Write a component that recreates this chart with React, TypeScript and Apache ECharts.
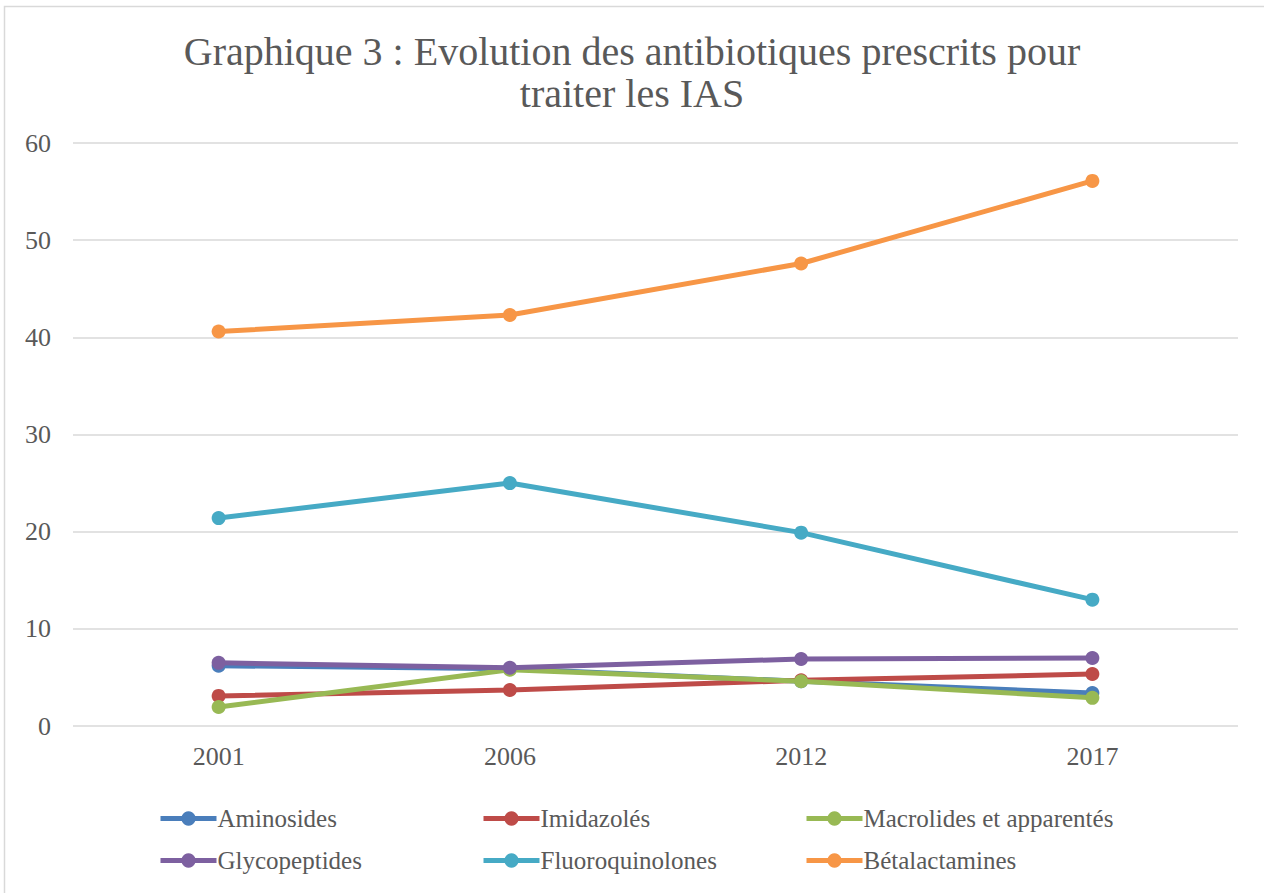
import React, { useEffect, useRef } from "react";
import * as echarts from "echarts";

const years = ["2001", "2006", "2012", "2017"];
const seriesNames = [
  "Aminosides",
  "Imidazolés",
  "Macrolides et apparentés",
  "Glycopeptides",
  "Fluoroquinolones",
  "Bétalactamines",
];
const aminosides = [6.2, 5.9, 4.6, 3.4];
const imidazoles = [3.1, 3.7, 4.7, 5.35];
const macrolides = [1.95, 5.8, 4.6, 2.9];
const glycopeptides = [6.5, 6.0, 6.9, 7.0];
const fluoroquinolones = [21.4, 25.0, 19.9, 13.0];
const betalactamines = [40.6, 42.3, 47.6, 56.1];
const colors = ["#4a7ebb", "#be4b48", "#98b954", "#7d60a0", "#46aac5", "#f79646"];
const yTicks = [0, 10, 20, 30, 40, 50, 60];

const FONT = "Liberation Serif";

export default function App() {
  const ref = useRef<HTMLDivElement>(null);
  useEffect(() => {
    document.body.style.margin = "0";
    const chart = echarts.init(ref.current!, null, { renderer: "svg" });
    const data = [aminosides, imidazoles, macrolides, glycopeptides, fluoroquinolones, betalactamines];
    const legendPos = [
      [153, 801],
      [476, 801],
      [799, 801],
      [153, 843],
      [476, 843],
      [799, 843],
    ];
    chart.setOption({
      animation: false,
      color: colors,
      title: {
        text: "Graphique 3 : Evolution des antibiotiques prescrits pour\ntraiter les IAS",
        left: "center",
        top: 25,
        textStyle: {
          fontFamily: FONT,
          fontSize: 40,
          fontWeight: "normal",
          color: "#595959",
          lineHeight: 42,
        },
      },
      legend: seriesNames.map((n, i) => ({
        data: [n],
        left: legendPos[i][0],
        top: legendPos[i][1],
        itemWidth: 56,
        itemHeight: 18,
        itemGap: 0,
        lineStyle: { width: 5 },
        textStyle: { fontFamily: FONT, fontSize: 25, color: "#595959", padding: [0, 0, 0, -4] },
      })),
      grid: { left: 73, right: 26, top: 143, bottom: 167, containLabel: false },
      xAxis: {
        type: "category",
        data: years,
        boundaryGap: true,
        axisLine: { show: false },
        axisTick: { show: false },
        axisLabel: { fontFamily: FONT, fontSize: 26, color: "#595959", margin: 17 },
      },
      yAxis: {
        type: "value",
        min: yTicks[0],
        max: yTicks[yTicks.length - 1],
        interval: 10,
        axisLine: { show: false },
        axisTick: { show: false },
        splitLine: { lineStyle: { color: "#d9d9d9", width: 1.5 } },
        axisLabel: { fontFamily: FONT, fontSize: 26, color: "#595959", margin: 22 },
      },
      graphic: [
        {
          type: "rect",
          shape: { x: 4.5, y: 6.5, width: 1300, height: 1000 },
          style: { fill: "none", stroke: "#d9d9d9", lineWidth: 1.5 },
          silent: true,
        },
      ],
      series: seriesNames.map((n, i) => ({
        name: n,
        type: "line",
        data: data[i],
        symbol: "circle",
        symbolSize: 14,
        lineStyle: { width: 5, color: colors[i] },
        itemStyle: { color: colors[i] },
        z: 2 + i,
      })),
    });
    return () => chart.dispose();
  }, []);
  return <div ref={ref} style={{ width: 1264, height: 893 }} />;
}
